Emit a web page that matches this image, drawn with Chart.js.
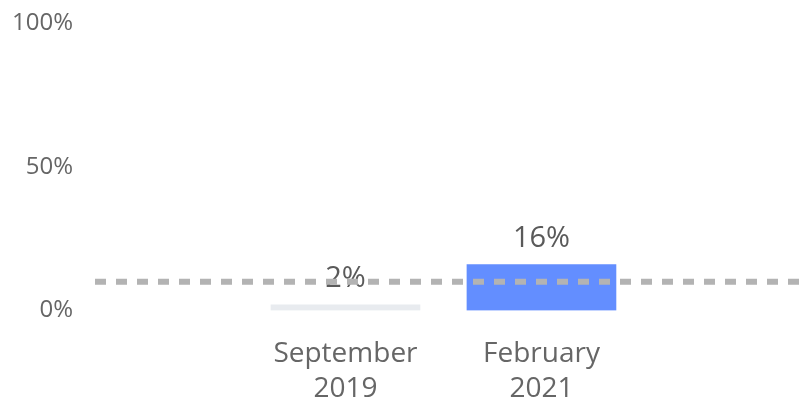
<!DOCTYPE html>
<html>
<head>
<meta charset="utf-8">
<script src="https://cdn.jsdelivr.net/npm/chart.js@4/dist/chart.umd.min.js"></script>
<style>
    html, body { margin: 0; padding: 0; background: #fff; }
    #wrap { width: 799px; height: 408px; }
</style>
</head>
<body>
<div id="wrap"><canvas id="chart"></canvas></div>
<script>
// data
const categories = [['September', '2019'], ['February', '2021']];
const values = [2, 16];
const barColors = ['#e8ebef', '#638eff'];
const benchmark = [10];
const yTicks = [0, 50, 100];

// x is linear so the two bars sit close together in the middle
const xMin = -0.278;
const xMax = 3.314;

// value labels go under the dashed line, so draw them right after the bars
const barLabels = {
    id: 'barLabels',
    afterDatasetDraw(chart, args) {
        if (args.index !== 0) return;
        const ctx = chart.ctx;
        ctx.save();
        ctx.font = '29px "Open Sans"';
        ctx.fillStyle = '#5a5a5a';
        ctx.textAlign = 'center';
        ctx.textBaseline = 'alphabetic';
        args.meta.data.forEach((bar, i) => {
            ctx.fillText(values[i] + '%', bar.x, bar.y - 18);
        });
        ctx.restore();
    }
};

new Chart(document.getElementById('chart').getContext('2d'), {
    data: {
        datasets: [{
            type: 'bar',
            data: values.map((v, i) => ({x: i + 1, y: v})),
            backgroundColor: barColors,
            barThickness: 149,
            order: 1
        }, {
            type: 'line',
            data: [{x: xMin, y: benchmark[0]}, {x: xMax, y: benchmark[0]}],
            borderColor: '#b3b3b3',
            borderWidth: 6,
            borderDash: [11, 10],
            pointRadius: 0,
            order: 0
        }]
    },
    options: {
        responsive: true,
        maintainAspectRatio: false,
        animation: false,
        layout: { padding: { top: 23, right: 0, left: 0, bottom: 0 } },
        plugins: { legend: { display: false }, tooltip: { enabled: false } },
        scales: {
            x: {
                type: 'linear',
                min: xMin,
                max: xMax,
                offset: false,
                grid: { display: false, drawTicks: false },
                border: { display: false },
                afterBuildTicks: (axis) => {
                    axis.ticks = categories.map((c, i) => ({value: i + 1}));
                },
                afterFit: (axis) => { axis.height = 97.5; },
                ticks: {
                    padding: 26,
                    maxRotation: 0,
                    autoSkip: false,
                    color: '#666',
                    font: { family: 'Open Sans', size: 28, lineHeight: 1.25 },
                    callback: (v) => categories[v - 1] || ''
                }
            },
            y: {
                min: 0,
                max: 100,
                grid: { display: false, drawTicks: false },
                border: { display: false },
                afterBuildTicks: (axis) => {
                    axis.ticks = yTicks.map(v => ({value: v}));
                },
                afterFit: (axis) => {
                    axis.width = 95;
                    axis.paddingTop = 0;
                    axis.paddingBottom = 0;
                },
                ticks: {
                    padding: 22,
                    color: '#666',
                    font: { family: 'Open Sans', size: 24 },
                    callback: (v) => v + '%'
                }
            }
        }
    },
    plugins: [barLabels]
});
</script>
</body>
</html>
